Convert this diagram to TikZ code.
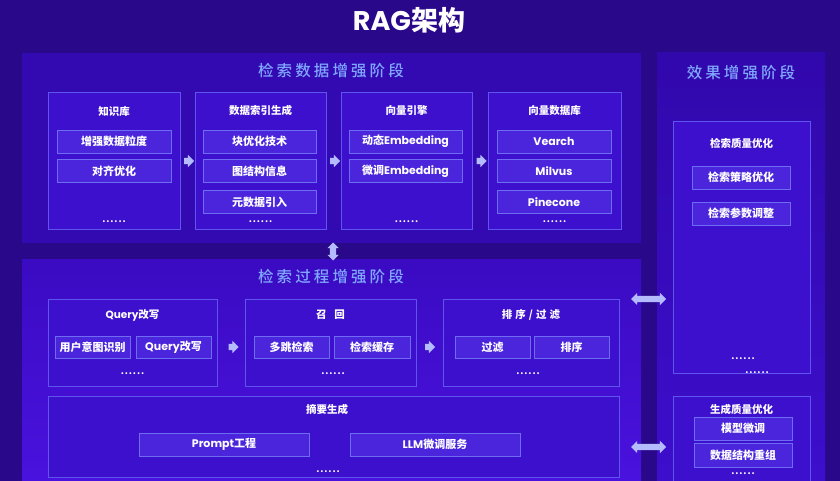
\documentclass[tikz,border=0pt]{standalone}
\usepackage{fontspec}
\setmainfont{Noto Sans CJK SC}
\newfontfamily\lat{Poppins}
\newfontfamily\spc[LetterSpace=20]{Noto Sans CJK SC Medium}
\newfontfamily\dotf[LetterSpace=10]{Noto Sans CJK SC}
\usetikzlibrary{shapes.arrows}
\definecolor{bgc}{HTML}{29098A}
\definecolor{ptop}{HTML}{3309B2}
\definecolor{pbota}{HTML}{3A0BC2}
\definecolor{pbotb}{HTML}{4A12DE}
\definecolor{prta}{HTML}{3108AC}
\definecolor{prtb}{HTML}{3D0ECC}
\definecolor{boxf}{HTML}{3C10CC}
\definecolor{boxb}{HTML}{5F55EE}
\definecolor{itemf}{HTML}{4A25DC}
\definecolor{itemb}{HTML}{6F6CF4}
\definecolor{ttl}{HTML}{80A8FF}
\definecolor{arr}{HTML}{B4BCFF}
\newcommand\lt[1]{{\lat #1}}
\tikzset{
  panel/.style={draw=none,inner sep=0pt,outer sep=0pt},
  box/.style={draw=boxb,line width=0.8pt,fill=boxf,inner sep=0pt,outer sep=0pt},
  item/.style={draw=itemb,line width=0.7pt,fill=itemf,text=white,inner sep=0pt,
    font=\fontsize{11}{11}\selectfont\bfseries},
  hdr/.style={text=white,inner sep=0pt,font=\fontsize{10.5}{10.5}\selectfont\bfseries},
  ptitle/.style={text=ttl,inner sep=0pt,font=\fontsize{15.5}{15.5}\selectfont\spc},
  dotsn/.style={text=white,inner sep=0pt,font=\fontsize{9}{9}\selectfont\dotf\bfseries},
  rarr/.style={single arrow,fill=arr,minimum height=10pt,inner xsep=1pt,inner ysep=3pt,
    single arrow head extend=3pt},
  darr/.style={double arrow,fill=arr,minimum height=35pt,inner xsep=1pt,inner ysep=3pt,
    double arrow head extend=3pt},
}
\begin{document}
\begin{tikzpicture}[x=1pt,y=-1pt]
\useasboundingbox (0,0) rectangle (840,481);
\fill[bgc] (0,0) rectangle (840,481);
% title
\node[text=white,font=\fontsize{27}{27}\selectfont\bfseries] (title) at (409,20) {\lt{RAG}架构};
% panels
\node[panel,fill=ptop,minimum width=619pt,minimum height=190pt] (p1) at (331.5,148) {};
\node[panel,top color=pbota,bottom color=pbotb,minimum width=619pt,minimum height=222pt] (p2) at (331.5,370) {};
\node[panel,top color=prta,bottom color=prtb,minimum width=168pt,minimum height=428pt] (p3) at (741,267) {};
\node[ptitle] (t1) at (331,71) {检索数据增强阶段};
\node[ptitle] (t2) at (331,277) {检索过程增强阶段};
\node[ptitle] (t3) at (741,73) {效果增强阶段};

% top boxes
\node[box,minimum width=132pt,minimum height=137pt] (kb) at (114,160.5) {};
\node[box,minimum width=131pt,minimum height=137pt] (idx) at (260.5,160.5) {};
\node[box,minimum width=131pt,minimum height=137pt] (vec) at (406.5,160.5) {};
\node[box,minimum width=133pt,minimum height=137pt] (vdb) at (554.5,160.5) {};
\node[hdr] (kbh) at (114,111) {知识库};
\node[hdr] (idxh) at (260.5,111) {数据索引生成};
\node[hdr] (vech) at (406.5,111) {向量引擎};
\node[hdr] (vdbh) at (554.5,111) {向量数据库};

\node[item,minimum width=114pt,minimum height=23pt] (kb1) at (114,141.5) {增强数据粒度};
\node[item,minimum width=114pt,minimum height=23pt] (kb2) at (114,171) {对齐优化};
\node[item,minimum width=113pt,minimum height=23pt] (idx1) at (259.5,141.5) {块优化技术};
\node[item,minimum width=113pt,minimum height=23pt] (idx2) at (259.5,171) {图结构信息};
\node[item,minimum width=113pt,minimum height=23pt] (idx3) at (259.5,202) {元数据引入};
\node[item,minimum width=113pt,minimum height=23pt] (vec1) at (405.5,141.5) {动态\lt{Embedding}};
\node[item,minimum width=113pt,minimum height=23pt] (vec2) at (405.5,171) {微调\lt{Embedding}};
\node[item,minimum width=114pt,minimum height=23pt] (vdb1) at (554,141.5) {\lt{Vearch}};
\node[item,minimum width=114pt,minimum height=23pt] (vdb2) at (554,171) {\lt{Milvus}};
\node[item,minimum width=114pt,minimum height=23pt] (vdb3) at (554,202) {\lt{Pinecone}};
\node[dotsn] (kbd) at (114,222) {......};
\node[dotsn] (idxd) at (260.5,222) {......};
\node[dotsn] (vecd) at (406.5,222) {......};
\node[dotsn] (vdbd) at (554.5,222) {......};

\node[rarr] (a1) at (187.5,161) {};
\node[rarr] (a2) at (333.5,161) {};
\node[rarr] (a3) at (480,161) {};
\node[double arrow,fill=arr,minimum height=18pt,inner sep=3pt,double arrow head extend=2.5pt,shape border rotate=90] (av) at (333,251.5) {};

% bottom boxes
\node[box,minimum width=169pt,minimum height=87pt] (qr) at (132.5,342.5) {};
\node[box,minimum width=171pt,minimum height=87pt] (rc) at (330.5,342.5) {};
\node[box,minimum width=176pt,minimum height=87pt] (rk) at (531,342.5) {};
\node[hdr] (qrh) at (132.5,315) {\lt{Query}改写};
\node[hdr] (rch) at (330.5,315) {召\hspace{8pt}回};
\node[hdr] (rkh) at (531,315) {排\hspace{3pt}序\hspace{3pt}/\hspace{3pt}过\hspace{3pt}滤};
\node[item,minimum width=75pt,minimum height=22pt] (qr1) at (92.5,347) {用户意图识别};
\node[item,minimum width=75pt,minimum height=22pt] (qr2) at (173.5,347) {\lt{Query}改写};
\node[item,minimum width=75pt,minimum height=22pt] (rc1) at (291.5,347) {多跳检索};
\node[item,minimum width=76pt,minimum height=22pt] (rc2) at (372,347) {检索缓存};
\node[item,minimum width=75pt,minimum height=22pt] (rk1) at (492.5,347) {过滤};
\node[item,minimum width=75pt,minimum height=22pt] (rk2) at (571.5,347) {排序};
\node[dotsn] (qrd) at (132.5,374) {......};
\node[dotsn] (rcd) at (333,374) {......};
\node[dotsn] (rkd) at (528,374) {......};
\node[rarr] (a4) at (232,347) {};
\node[rarr] (a5) at (428.5,347) {};

\node[box,minimum width=571pt,minimum height=81pt] (sm) at (333.5,436.5) {};
\node[hdr] (smh) at (327,409) {摘要生成};
\node[item,minimum width=170pt,minimum height=23pt] (sm1) at (224,444.5) {\lt{Prompt}工程};
\node[item,minimum width=170pt,minimum height=23pt] (sm2) at (435,444.5) {\lt{LLM}微调服务};
\node[dotsn] (smd) at (328,472) {......};

% right panel boxes
\node[box,minimum width=137pt,minimum height=252pt] (q1) at (741.5,247) {};
\node[hdr] (q1h) at (741.5,143) {检索质量优化};
\node[item,minimum width=98pt,minimum height=23pt] (q11) at (741,177.5) {检索策略优化};
\node[item,minimum width=98pt,minimum height=23pt] (q12) at (741,213.5) {检索参数调整};
\node[dotsn] (q1d) at (743,359) {......};
\node[dotsn] (q1e) at (757,373) {......};

\node[box,minimum width=137pt,minimum height=90pt] (q2) at (741.5,441) {};
\node[hdr] (q2h) at (741.5,409) {生成质量优化};
\node[item,minimum width=98pt,minimum height=23pt] (q21) at (743,428.5) {模型微调};
\node[item,minimum width=98pt,minimum height=24pt] (q22) at (743,455) {数据结构重组};
\node[dotsn] (q2d) at (743,474) {......};

\node[darr] (ah1) at (648.5,299) {};
\node[darr] (ah2) at (648.5,447) {};
\end{tikzpicture}
\end{document}
